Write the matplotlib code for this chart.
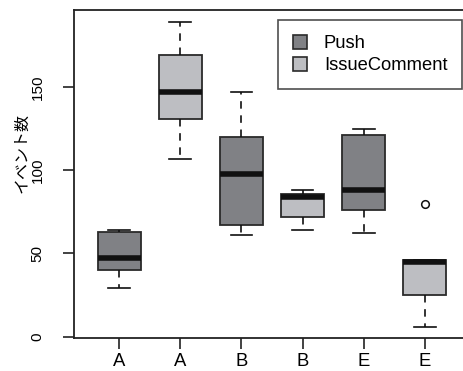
import matplotlib
matplotlib.use("Agg")
import matplotlib.pyplot as plt
from matplotlib.patches import Patch

# ---- data ----
labels = ["A", "A", "B", "B", "E", "E"]
series = ["Push", "IssueComment", "Push", "IssueComment", "Push", "IssueComment"]
whislo = [29, 107, 61, 64, 62, 6]
q1 = [40, 131, 67, 72, 76, 25]
med = [47, 147, 98, 84, 88, 45]
q3 = [63, 169, 120, 86, 121, 46]
whishi = [64, 189, 147, 88, 125, 46]
fliers = [[], [], [], [], [], [80]]
yticks = [0, 50, 100, 150]
legend_names = ["Push", "IssueComment"]
ylabel = "イベント数"

colors = {"Push": "#808185", "IssueComment": "#bdbec2"}
edge = "#2a2a2a"

plt.rcParams['font.family'] = ['Liberation Sans', 'Noto Sans CJK JP', 'DejaVu Sans']

W, H = 463, 371
fig = plt.figure(figsize=(W / 100, H / 100), dpi=100)
left, right, top, bottom = 74, 470, 10, 338
ax = fig.add_axes([left / W, 1 - bottom / H, (right - left) / W, (bottom - top) / H])

stats = []
for i in range(len(labels)):
    stats.append(dict(whislo=whislo[i], q1=q1[i], med=med[i], q3=q3[i],
                      whishi=whishi[i], fliers=fliers[i], label=labels[i]))

positions = list(range(1, len(labels) + 1))
bp = ax.bxp(stats, positions=positions, widths=0.7, capwidths=0.36,
            patch_artist=True, showfliers=True,
            boxprops=dict(edgecolor=edge, linewidth=1.3),
            medianprops=dict(color="#111111", linewidth=4.0, solid_capstyle="butt"),
            whiskerprops=dict(color="#111111", linewidth=1.2, linestyle=(0, (4.5, 4))),
            capprops=dict(color="#111111", linewidth=1.2),
            flierprops=dict(marker="o", markerfacecolor="white", markeredgecolor="#111111",
                            markersize=5.5, markeredgewidth=1.1))
for patch, s in zip(bp["boxes"], series):
    patch.set_facecolor(colors[s])

ax.set_xlim(0.255, 6.745)
ax.set_ylim(-0.8, 196.3)
ax.set_xticks(positions)
ax.set_xticklabels(labels, fontsize=13.3)
ax.set_yticks(yticks)
ax.set_yticklabels([str(t) for t in yticks], fontsize=11, rotation=90, va="center")
ax.tick_params(axis="x", length=8, width=1.2, pad=3, color="#222222")
ax.tick_params(axis="y", length=8, width=1.2, pad=13, color="#222222")
for sp in ax.spines.values():
    sp.set_linewidth(1.3)
    sp.set_color("#222222")

fig.text(22 / W, 1 - 153 / H, ylabel, rotation=90, ha="center", va="center",
         fontsize=11.5, family=['Noto Sans CJK JP', 'DejaVu Sans'])

handles = [Patch(facecolor=colors[n], edgecolor=edge, linewidth=1.2) for n in legend_names]
leg = fig.legend(handles, legend_names, loc="upper left",
                 bbox_to_anchor=(278 / W, 1 - 20 / H), fontsize=13.2,
                 frameon=True, fancybox=False, handlelength=0.8, handleheight=0.8,
                 handletextpad=0.9, borderpad=0.8, labelspacing=0.25, borderaxespad=0)
leg.get_frame().set_edgecolor("#222222")
leg.get_frame().set_linewidth(1.2)

fig.savefig("out.png", dpi=100)
